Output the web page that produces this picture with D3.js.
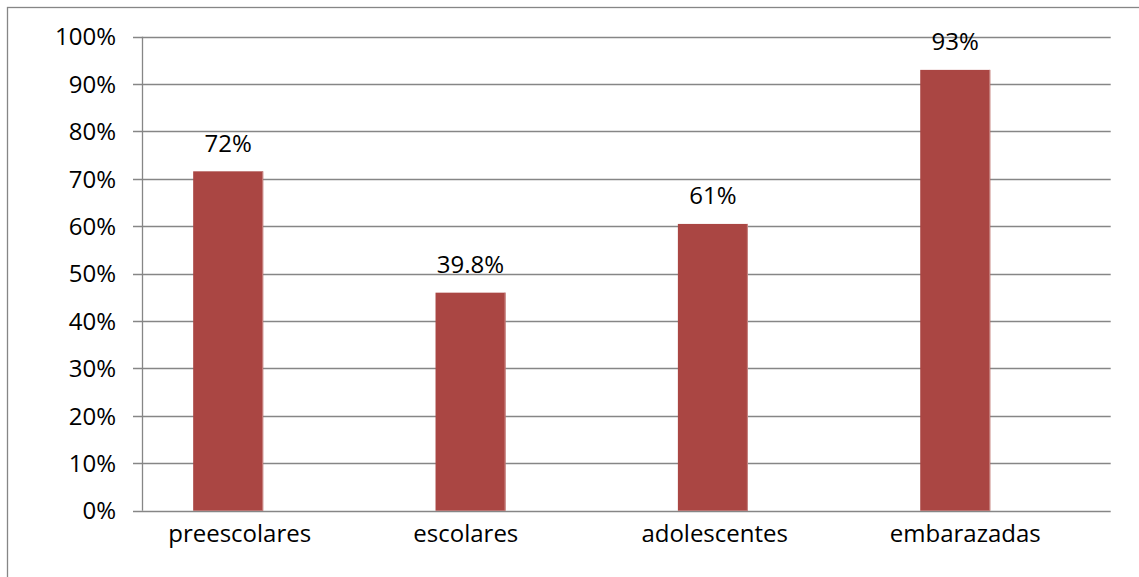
<!DOCTYPE html>
<html>
<head>
<meta charset="utf-8">
<script src="https://cdn.jsdelivr.net/npm/d3@7"></script>
<style>
  html, body { margin: 0; padding: 0; background: #fff; }
  svg { display: block; }
  text { font-family: "Open Sans", "Noto Sans", sans-serif; fill: #000; }
</style>
</head>
<body>
<svg id="chart" width="1139" height="577"></svg>
<script>
const categories = ["preescolares", "escolares", "adolescentes", "embarazadas"];
const values = [71.6, 46.0, 60.5, 93.0];
const valueLabels = ["72%", "39.8%", "61%", "93%"];
const yTicks = [0, 10, 20, 30, 40, 50, 60, 70, 80, 90, 100];

// layout: horizontal nudges of category labels as placed in the original
const labelNudge = [11.5, -4.7, 1.8, 10];

const svg = d3.select("#chart");
const fontSize = 24;
const gridColor = "#868686";
const barColor = "#AA4643";

// outer chart border (only top/left visible in frame)
svg.append("rect")
  .attr("x", 7.5).attr("y", 7.5)
  .attr("width", 1140).attr("height", 580)
  .attr("fill", "none").attr("stroke", gridColor).attr("stroke-width", 1.3);

const plotLeft = 142, plotRight = 1110.7, plotTop = 36.7, plotBottom = 510.7;

const y = d3.scaleLinear().domain([0, 100]).range([plotBottom, plotTop]);
const x = d3.scaleBand().domain(categories).range([107, 1076.4]).padding(0);
const barW = 70;

// gridlines with tick marks
svg.append("g").selectAll("line").data(yTicks).join("line")
  .attr("x1", plotLeft - 9).attr("x2", plotRight)
  .attr("y1", d => Math.round(y(d)) + 0.5).attr("y2", d => Math.round(y(d)) + 0.5)
  .attr("stroke", gridColor).attr("stroke-width", 1.3);

// y axis line
svg.append("line")
  .attr("x1", plotLeft + 0.5).attr("x2", plotLeft + 0.5)
  .attr("y1", y(100)).attr("y2", y(0))
  .attr("stroke", gridColor).attr("stroke-width", 1.3);

// y tick labels
svg.append("g").selectAll("text").data(yTicks).join("text")
  .attr("x", 116).attr("y", d => y(d))
  .attr("dy", "0.36em")
  .attr("text-anchor", "end")
  .style("font-size", fontSize + "px")
  .text(d => d + "%");

// bars
svg.append("g").selectAll("rect").data(values).join("rect")
  .attr("x", (d, i) => x(categories[i]) + x.bandwidth() / 2 - barW / 2)
  .attr("y", d => y(d))
  .attr("width", barW)
  .attr("height", d => y(0) - y(d))
  .attr("fill", barColor);

// subtle lighter right edge of bars
svg.append("g").selectAll("line").data(values).join("line")
  .attr("x1", (d, i) => x(categories[i]) + x.bandwidth() / 2 + barW / 2 - 0.5)
  .attr("x2", (d, i) => x(categories[i]) + x.bandwidth() / 2 + barW / 2 - 0.5)
  .attr("y1", d => y(d)).attr("y2", y(0))
  .attr("stroke", "#C98886").attr("stroke-width", 1);

// value labels
svg.append("g").selectAll("text").data(values).join("text")
  .attr("x", (d, i) => x(categories[i]) + x.bandwidth() / 2)
  .attr("y", d => y(d) - 19.5)
  .attr("text-anchor", "middle")
  .style("font-size", fontSize + "px")
  .text((d, i) => valueLabels[i]);

// category labels
svg.append("g").selectAll("text").data(categories).join("text")
  .attr("x", (d, i) => x(d) + x.bandwidth() / 2 + labelNudge[i])
  .attr("y", 541.7)
  .attr("text-anchor", "middle")
  .style("font-size", fontSize + "px")
  .text(d => d);
</script>
</body>
</html>
